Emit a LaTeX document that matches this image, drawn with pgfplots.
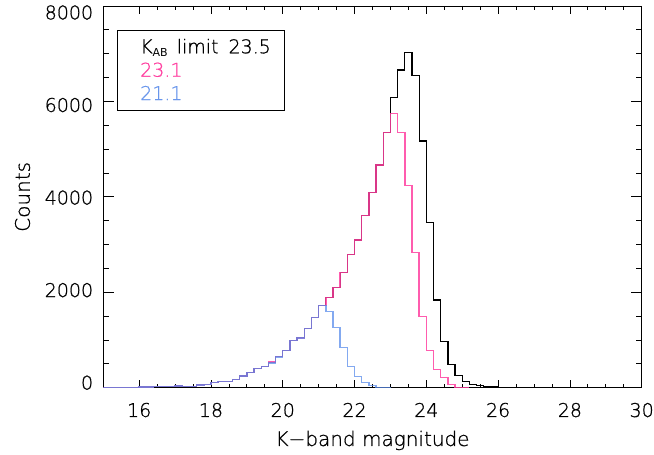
\documentclass[border=0pt]{standalone}
\usepackage{fontspec}
\setmainfont{DejaVu Sans ExtraLight}[FakeBold=0.8]
\newfontfamily\regfont{DejaVu Sans}
\usepackage{pgfplots}
\usepackage{pgfplotstable}
\pgfplotsset{compat=1.18}
\definecolor{kpink}{RGB}{255,64,160}
\definecolor{kblue}{RGB}{105,150,235}
\definecolor{kbline}{RGB}{90,140,235}

\pgfplotstableread{
m c
15.0 5
15.2 5
15.4 5
15.6 10
15.8 10
16.0 15
16.2 15
16.4 20
16.6 25
16.8 30
17.0 35
17.2 30
17.4 30
17.6 60
17.8 65
18.0 115
18.2 125
18.4 135
18.6 175
18.8 245
19.0 320
19.2 400
19.4 440
19.6 535
19.8 655
20.0 785
20.2 985
20.4 1045
20.6 1240
20.8 1470
21.0 1720
21.2 1885
21.4 2095
21.6 2410
21.8 2795
22.0 3095
22.2 3605
22.4 4085
22.6 4670
22.8 5345
23.0 6087
23.2 6657
23.4 7022
23.6 6540
23.8 5171
24.0 3459
24.2 1838
24.4 965
24.6 485
24.8 250
25.0 126
25.2 71
25.4 42
25.6 25
25.8 15
26.0 10
26.2 8
26.4 6
26.6 5
26.8 4
27.0 3
27.2 2
27.4 2
27.6 1
27.8 1
28.0 0
30.0 0
}\blacktab

\pgfplotstableread{
m c
15.0 5
15.2 5
15.4 5
15.6 10
15.8 10
16.0 15
16.2 15
16.4 20
16.6 25
16.8 30
17.0 35
17.2 30
17.4 30
17.6 60
17.8 65
18.0 115
18.2 125
18.4 135
18.6 175
18.8 245
19.0 320
19.2 400
19.4 440
19.6 535
19.8 655
20.0 785
20.2 985
20.4 1045
20.6 1240
20.8 1470
21.0 1720
21.2 1885
21.4 2095
21.6 2410
21.8 2795
22.0 3095
22.2 3605
22.4 4085
22.6 4670
22.8 5345
23.0 5751
23.2 5345
23.4 4234
23.6 2838
23.8 1488
24.0 783
24.2 378
24.4 217
24.6 71
24.8 10
25.0 0
25.2 0
}\pinktab

\pgfplotstableread{
m c
15.0 5
15.2 5
15.4 5
15.6 10
15.8 10
16.0 15
16.2 15
16.4 20
16.6 25
16.8 30
17.0 35
17.2 20
17.4 30
17.6 60
17.8 65
18.0 115
18.2 125
18.4 135
18.6 175
18.8 245
19.0 320
19.2 400
19.4 440
19.6 520
19.8 640
20.0 785
20.2 985
20.4 1045
20.6 1240
20.8 1470
21.0 1720
21.2 1593
21.4 1258
21.6 838
21.8 440
22.0 231
22.2 113
22.4 50
22.6 10
22.8 3
23.0 0
}\bluetab

\begin{document}
\begin{tikzpicture}
\begin{axis}[name=ax, at={(0,0)}, anchor=south west,
  scale only axis, width=538.4pt, height=381.7pt,
  xmin=15, xmax=30, ymin=0, ymax=8000,
  xtick={16,18,...,30}, ytick={0,2000,...,8000},
  minor x tick num=3, minor y tick num=3,
  tick align=inside,
  axis line style={line width=0.8pt, black},
  every tick/.style={black, line width=0.8pt},
  xtick style={/pgfplots/major tick length=7.6pt,/pgfplots/minor tick length=3.8pt},
  ytick style={/pgfplots/major tick length=10.8pt,/pgfplots/minor tick length=5.4pt},
  /pgf/number format/assume math mode=true,
  /pgf/number format/1000 sep={},
  ticklabel style={font=\fontsize{19}{19}\selectfont, inner sep=0pt},
  xticklabel style={anchor=base, yshift=-29.3pt},
  yticklabel style={anchor=east, xshift=-10pt},
  yticklabel={\pgfmathsetmacro\lft{5-11.5*(\tick/8000)}\raisebox{\lft pt}[\height][\depth]{\pgfmathprintnumber{\tick}}},
  xlabel={K−band magnitude}, ylabel={Counts},
  label style={font=\fontsize{20}{20}\selectfont, inner sep=0pt},
  xlabel style={at={(axis description cs:0.5,-0.1527)}, anchor=base},
  ylabel style={at={(axis description cs:-0.150,0.5)}, anchor=center},
]
\addplot[const plot, black, line width=1.3pt] table[x=m, y=c] {\blacktab};
\addplot[const plot, kpink, opacity=0.85, line width=1.4pt] table[x=m, y=c] {\pinktab};
\addplot[const plot, kbline, opacity=0.75, line width=1.4pt] table[x=m, y=c] {\bluetab};

\draw[line width=0.8pt] (axis description cs:0.0267,0.7257) rectangle (axis description cs:0.3362,0.9371);
\node[anchor=base west, inner sep=0pt, font=\fontsize{19}{19}\selectfont] at (axis description cs:0.0682,0.8761)
  {K\raisebox{-3.7pt}{\regfont\fontsize{11}{11}\selectfont AB}\hspace{9pt}limit\hspace{10pt}23.5};
\node[anchor=base west, inner sep=0pt, font=\fontsize{19}{19}\selectfont, text=kpink] at (axis description cs:0.0682,0.8148) {23.1};
\node[anchor=base west, inner sep=0pt, font=\fontsize{19}{19}\selectfont, text=kblue] at (axis description cs:0.0682,0.7537) {21.1};
\end{axis}
\pgfresetboundingbox
\path[use as bounding box] ([shift={(-103.3pt,-67.3pt)}]ax.south west) rectangle ([shift={(12.3pt,6pt)}]ax.north east);
\end{tikzpicture}
\end{document}
